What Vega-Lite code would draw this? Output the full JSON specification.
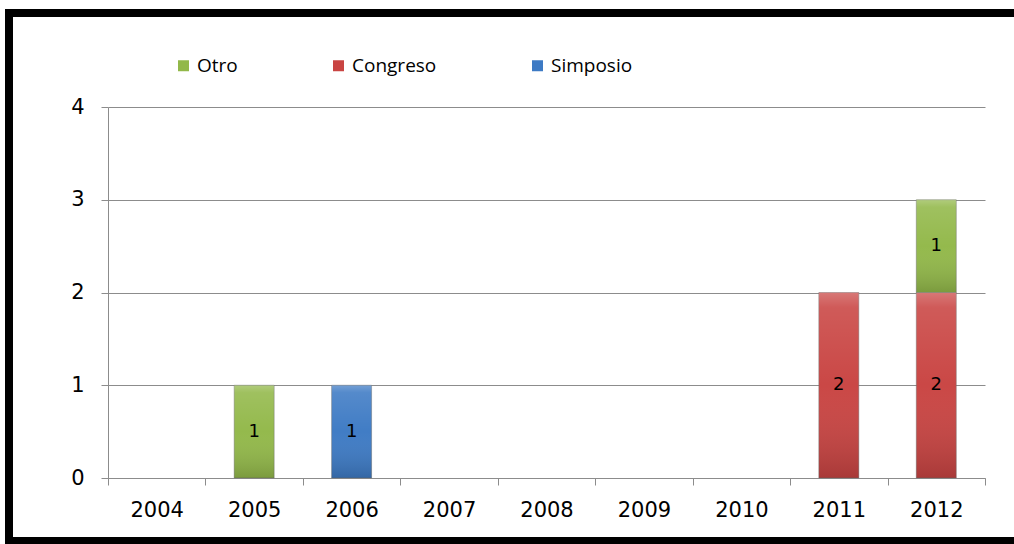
{
  "$schema": "https://vega.github.io/schema/vega-lite/v6.json",
  "autosize": "none",
  "width": 1011,
  "height": 528,
  "padding": {"left": 9, "top": 13, "right": -6, "bottom": 3},
  "background": "white",
  "config": {
    "view": {"stroke": "black", "strokeWidth": 8, "fill": "white"},
    "axis": {"labelColor": "#000000", "domainColor": "#8c8c8c", "tickColor": "#8c8c8c", "gridColor": "#8c8c8c", "domainWidth": 1, "tickWidth": 1, "gridWidth": 1, "gridOpacity": 1}
  },
  "data": {
    "values": [
      {"year": "2005", "type": "Otro", "count": 1},
      {"year": "2006", "type": "Simposio", "count": 1},
      {"year": "2011", "type": "Congreso", "count": 2},
      {"year": "2012", "type": "Congreso", "count": 2},
      {"year": "2012", "type": "Otro", "count": 1}
    ]
  },
  "encoding": {
    "x": {
      "field": "year",
      "type": "ordinal",
      "scale": {"domain": ["2004","2005","2006","2007","2008","2009","2010","2011","2012"], "range": [99, 976], "paddingInner": 0, "paddingOuter": 0},
      "axis": {"orient": "bottom", "offset": -63, "title": null, "labelAngle": 0, "tickBand": "extent", "tickSize": 7, "labelPadding": 14, "labelFont": "DejaVu Sans", "labelFontSize": 21, "grid": false}
    },
    "y": {
      "field": "count",
      "type": "quantitative",
      "stack": "zero",
      "scale": {"domain": [0, 4], "range": [465, 94], "nice": false},
      "axis": {"orient": "left", "offset": -99, "title": null, "values": [0,1,2,3,4], "format": "d", "grid": true, "tickSize": 7, "labelPadding": 17, "labelFont": "DejaVu Sans", "labelFontSize": 21}
    },
    "order": {"field": "type", "type": "nominal", "sort": "ascending"}
  },
  "layer": [
    {
      "mark": {"type": "bar", "width": {"band": 0.41}, "stroke": "#6e6e6e", "strokeWidth": 0.8, "strokeOpacity": 0.6},
      "encoding": {
        "color": {
          "field": "type",
          "type": "nominal",
          "scale": {"domain": ["Otro", "Congreso", "Simposio"], "range": ["#92B849", "#C94442", "#3D7AC4"]},
          "legend": {
            "title": null,
            "orient": "none",
            "legendX": 165,
            "legendY": 43,
            "direction": "horizontal",
            "symbolType": "square",
            "symbolSize": 121,
            "symbolStrokeWidth": 0,
            "labelFont": "Open Sans",
            "labelFontSize": 19,
            "labelColor": "#000000",
            "labelOffset": 4,
            "columnPadding": 91
          }
        }
      }
    },
    {
      "mark": {
        "type": "bar",
        "width": {"band": 0.41},
        "color": {
          "gradient": "linear",
          "x1": 0, "y1": 0, "x2": 0, "y2": 1,
          "stops": [
            {"offset": 0, "color": "rgba(255,255,255,0.28)"},
            {"offset": 0.08, "color": "rgba(255,255,255,0.12)"},
            {"offset": 0.5, "color": "rgba(255,255,255,0.02)"},
            {"offset": 1, "color": "rgba(0,0,0,0.16)"}
          ]
        }
      },
      "encoding": {
        "detail": {"field": "type", "type": "nominal"}
      }
    },
    {
      "mark": {"type": "text", "font": "DejaVu Sans", "fontSize": 18, "color": "#000000", "baseline": "middle"},
      "encoding": {
        "y": {"field": "count", "type": "quantitative", "stack": "zero", "bandPosition": 0.5},
        "detail": {"field": "type", "type": "nominal"},
        "text": {"field": "count", "type": "quantitative"}
      }
    }
  ]
}
